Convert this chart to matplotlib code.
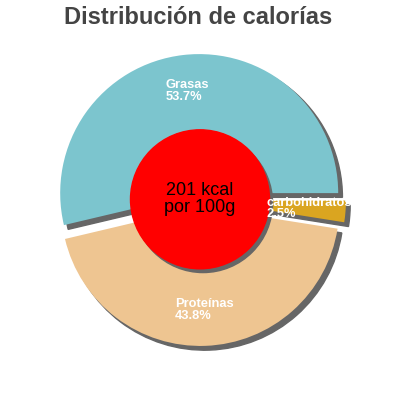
import matplotlib
matplotlib.use("Agg")
import matplotlib.pyplot as plt
from matplotlib.patches import Circle

# data
labels = ["Grasas", "Proteínas", "carbohidratos"]
values = [53.7, 43.8, 2.5]
colors = ["#7cc5ce", "#eec591", "#daa520"]
kcal_text = "201 kcal\npor 100g"
title = "Distribución de calorías"

plt.rcParams['font.family'] = ['Liberation Sans', 'DejaVu Sans']

fig = plt.figure(figsize=(4, 4), dpi=100)
ax = fig.add_axes([0, 0, 1, 1])

shadow = {'ox': 0.022, 'oy': -0.022, 'facecolor': '#666666',
          'edgecolor': '#666666', 'alpha': 1}
wedges, texts = ax.pie(values, labels=[f"{l}\n{v}%" for l, v in zip(labels, values)],
                       colors=colors, startangle=0, explode=[0.05] * 3,
                       labeldistance=0.74, shadow=shadow,
                       textprops={'color': 'white', 'fontsize': 9.3,
                                  'fontweight': 'bold'})
for t in texts:
    t.set_ha('center')
    t.set_va('center')
    t.set_multialignment('left')
    t.set_linespacing(0.95)
    t.set_zorder(6)

# red centre disc with its shadow
ax.add_patch(Circle((0.022, -0.022), 0.5, color='#666666', zorder=3))
ax.add_patch(Circle((0, 0.005), 0.5, color='red', zorder=4))
ax.text(0, 0.005, kcal_text, ha='center', va='center', fontsize=13,
        color='black', zorder=5, linespacing=1.0)

scale = 200 / 139
ax.set_xlim(-scale, scale)
ax.set_ylim(-scale, scale)
ax.set_aspect('equal')
ax.axis('off')

fig.text(0.495, 0.955, title, ha='center', va='center', fontsize=17,
         fontweight='bold', color='#444444')

fig.savefig("out.png", dpi=100)
